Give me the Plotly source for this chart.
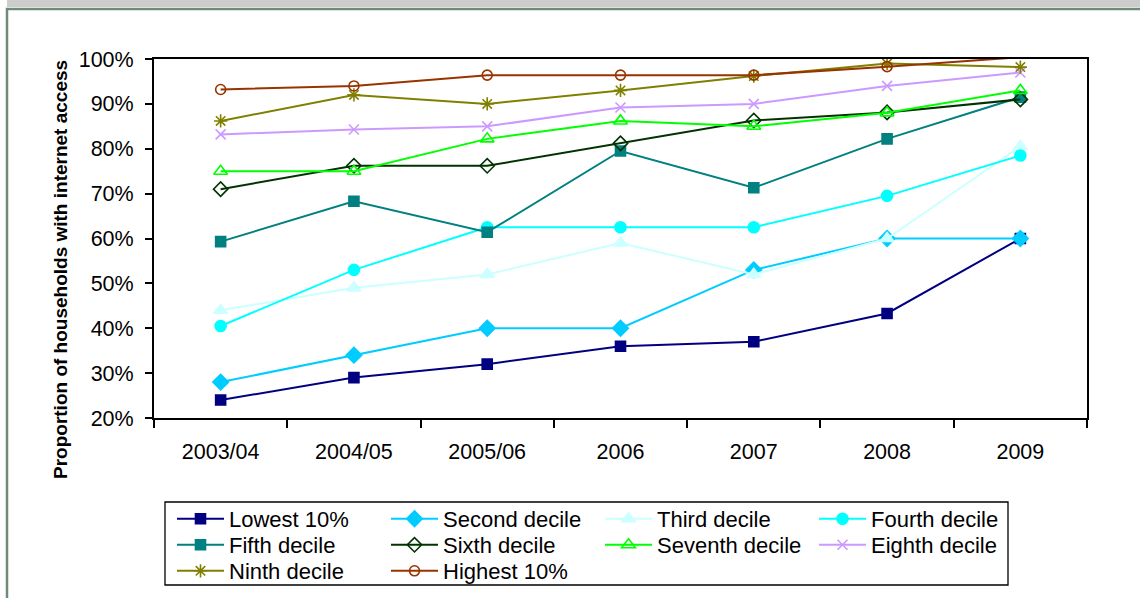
import plotly.graph_objects as go

periods = ["2003/04", "2004/05", "2005/06", "2006", "2007", "2008", "2009"]

lowest_10 = [24, 29, 32, 36, 37, 43.3, 60]
second_decile = [28, 34, 40, 40, 53, 60, 60]
third_decile = [44, 49, 52, 59, 52, 60, 80.5]
fourth_decile = [40.5, 53, 62.5, 62.5, 62.5, 69.5, 78.5]
fifth_decile = [59.3, 68.3, 61.4, 79.5, 71.3, 82.2, 91.5]
sixth_decile = [71, 76.2, 76.2, 81.2, 86.3, 88.1, 91]
seventh_decile = [75, 75, 82.2, 86.2, 85, 88, 93]
eighth_decile = [83.2, 84.3, 85, 89.2, 90, 94, 97]
ninth_decile = [86.2, 92, 90, 93, 96.2, 99, 98.2]
highest_10 = [93.2, 94, 96.4, 96.4, 96.4, 98.3, 100.4]

series = [
    ("Lowest 10%", lowest_10, "#000080", "square", 10),
    ("Second decile", second_decile, "#00CCFF", "diamond", 12),
    ("Third decile", third_decile, "#CCFFFF", "triangle-up", 12),
    ("Fourth decile", fourth_decile, "#00FFFF", "circle", 11),
    ("Fifth decile", fifth_decile, "#008080", "square", 10),
    ("Sixth decile", sixth_decile, "#003300", "diamond-open", 11),
    ("Seventh decile", seventh_decile, "#00FF00", "triangle-up-open", 12),
    ("Eighth decile", eighth_decile, "#CC99FF", "x-thin-open", 10),
    ("Ninth decile", ninth_decile, "#808000", "asterisk-open", 11),
    ("Highest 10%", highest_10, "#993300", "circle-open", 10),
]

FONT = "Arial, 'Liberation Sans', sans-serif"
legend_names = ["legend", "legend2", "legend3"]

fig = go.Figure()
for i, (name, vals, color, sym, size) in enumerate(series):
    fig.add_trace(go.Scatter(
        x=periods, y=[v / 100 for v in vals], name=name, mode="lines+markers",
        line=dict(color=color, width=2),
        marker=dict(symbol=sym, size=size, color=color,
                    line=dict(color=color, width=1.6)),
        cliponaxis=False,
        legend=legend_names[i // 4],
    ))

W, H = 1140, 598
L, R, T, B = 154, 1087, 59, 418
pw, ph = R - L, B - T


def px(x):
    return (x - L) / pw


def py(y):
    return (B - y) / ph


shapes = [
    # grey title band at the very top
    dict(type="rect", xref="paper", yref="paper", x0=px(7), x1=px(1141),
         y0=py(7), y1=py(-2), fillcolor="#cccccc", line=dict(width=0), layer="below"),
    # green-grey outer frame
    dict(type="rect", xref="paper", yref="paper", x0=px(7), x1=px(1145),
         y0=py(605), y1=py(9), fillcolor="rgba(0,0,0,0)",
         line=dict(color="#6f8a78", width=2.5), layer="below"),
    # legend box
    dict(type="rect", xref="paper", yref="paper", x0=px(165), x1=px(1008),
         y0=py(585), y1=py(502), fillcolor="rgba(0,0,0,0)",
         line=dict(color="black", width=1.3), layer="above"),
]

row_centers = [519, 545, 571]
legend_common = dict(
    orientation="h", xref="container", yref="container",
    x=172 / W, xanchor="left", yanchor="middle",
    borderwidth=0, bgcolor="rgba(0,0,0,0)",
    font=dict(size=22, family=FONT, color="black"),
    entrywidth=152, entrywidthmode="pixels", itemwidth=47,
    traceorder="normal",
)

layout_legends = {}
for ln, yc in zip(legend_names, row_centers):
    d = dict(legend_common)
    d["y"] = 1 - yc / H
    layout_legends[ln] = d

fig.update_layout(
    width=W, height=H,
    margin=dict(l=L, r=W - R, t=T, b=H - B, autoexpand=False),
    paper_bgcolor="white", plot_bgcolor="white",
    font=dict(family=FONT, color="black", size=20),
    showlegend=True,
    shapes=shapes,
    xaxis=dict(
        type="category", range=[-0.5, 6.5], showgrid=False,
        showline=True, linecolor="black", linewidth=2, mirror=True,
        ticks="outside", ticklen=8, tickwidth=2, tickcolor="black",
        tickson="boundaries", ticklabelstandoff=13,
        tickfont=dict(size=21.5, family=FONT, color="black"),
    ),
    yaxis=dict(
        range=[0.2, 1.0], dtick=0.1, tick0=0.2, tickformat=".0%",
        showgrid=False, zeroline=False,
        showline=True, linecolor="black", linewidth=2, mirror=True,
        ticks="outside", ticklen=7, tickwidth=2, tickcolor="black",
        ticklabelstandoff=7,
        tickfont=dict(size=21.5, family=FONT, color="black"),
    ),
    annotations=[
        dict(text="<b>Proportion of households with internet access</b>",
             xref="paper", yref="paper", x=px(60), y=py(270),
             xanchor="center", yanchor="middle", textangle=-90,
             showarrow=False, font=dict(size=19, family=FONT, color="black")),
    ],
    **layout_legends,
)

fig.write_html("out.html", config={"displayModeBar": False},
               post_script="document.body.style.margin='0px';")
